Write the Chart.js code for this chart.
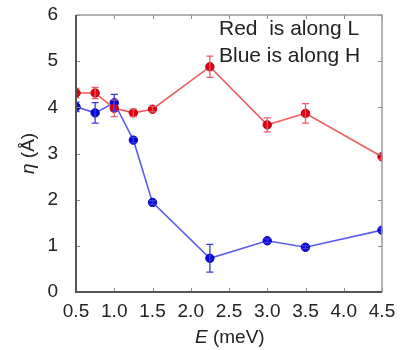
<!DOCTYPE html>
<html>
<head>
<meta charset="utf-8">
<script src="https://cdn.jsdelivr.net/npm/chart.js@4/dist/chart.umd.min.js"></script>
<style>
html,body{margin:0;padding:0;background:#fff;}
#wrap{width:411px;height:350px;position:relative;}
</style>
</head>
<body>
<div id="wrap"><canvas id="c" width="411" height="350"></canvas></div>
<script>
const energyL = [0.5, 0.75, 1.0, 1.25, 1.5, 2.25, 3.0, 3.5, 4.5];
const etaL    = [4.31, 4.31, 3.98, 3.88, 3.96, 4.88, 3.62, 3.87, 2.93];
const errL    = [0.10, 0.12, 0.18, 0.08, 0.06, 0.23, 0.15, 0.21, 0.05];
const energyH = [0.5, 0.75, 1.0, 1.25, 1.5, 2.25, 3.0, 3.5, 4.5];
const etaH    = [4.01, 3.88, 4.10, 3.29, 1.94, 0.73, 1.11, 0.97, 1.34];
const errH    = [0.10, 0.22, 0.18, 0.06, 0.04, 0.30, 0.04, 0.03, 0.04];
const xTicks = [0.5, 1.0, 1.5, 2.0, 2.5, 3.0, 3.5, 4.0, 4.5];
const yTicks = [0, 1, 2, 3, 4, 5, 6];
const notes = ["Red  is along L", "Blue is along H"];

const FONT = "'Liberation Sans', Arial, sans-serif";

const errorBars = {
  id: 'errorBars',
  afterDatasetsDraw(chart) {
    const ctx = chart.ctx, xs = chart.scales.x, ys = chart.scales.y;
    const area = chart.chartArea;
    ctx.save();
    ctx.beginPath();
    ctx.rect(area.left - 1, area.top - 1, area.right - area.left + 2, area.bottom - area.top + 2);
    ctx.clip();
    chart.data.datasets.forEach(ds => {
      ctx.strokeStyle = ds.errColor;
      ctx.lineWidth = 1.3;
      ds.data.forEach((p, i) => {
        const e = ds.errors[i];
        const px = xs.getPixelForValue(p.x);
        const y1 = ys.getPixelForValue(p.y + e), y2 = ys.getPixelForValue(p.y - e);
        ctx.beginPath();
        ctx.moveTo(px, y1); ctx.lineTo(px, y2);
        ctx.moveTo(px - 3.5, y1); ctx.lineTo(px + 3.5, y1);
        ctx.moveTo(px - 3.5, y2); ctx.lineTo(px + 3.5, y2);
        ctx.stroke();
      });
    });
    ctx.restore();
  }
};

const frame = {
  id: 'frame',
  afterDatasetsDraw(chart) {
    const ctx = chart.ctx, a = chart.chartArea, xs = chart.scales.x, ys = chart.scales.y;
    ctx.save();
    ctx.strokeStyle = '#8a8a8a';
    ctx.lineWidth = 1;
    xTicks.forEach(v => {
      const px = Math.round(xs.getPixelForValue(v)) + 0.5;
      ctx.beginPath();
      ctx.moveTo(px, a.bottom); ctx.lineTo(px, a.bottom - 4);
      ctx.moveTo(px, a.top); ctx.lineTo(px, a.top + 4);
      ctx.stroke();
    });
    yTicks.forEach(v => {
      const py = Math.round(ys.getPixelForValue(v)) + 0.5;
      ctx.beginPath();
      ctx.moveTo(a.left, py); ctx.lineTo(a.left + 4, py);
      ctx.moveTo(a.right, py); ctx.lineTo(a.right - 4, py);
      ctx.stroke();
    });
    ctx.strokeStyle = '#9a9a9a';
    ctx.lineWidth = 1.5;
    ctx.beginPath();
    ctx.moveTo(a.left, a.top); ctx.lineTo(a.right, a.top); ctx.lineTo(a.right, a.bottom);
    ctx.stroke();
    ctx.strokeStyle = '#555';
    ctx.lineWidth = 2;
    ctx.beginPath();
    ctx.moveTo(a.left, a.top); ctx.lineTo(a.left, a.bottom); ctx.lineTo(a.right, a.bottom);
    ctx.stroke();
    ctx.restore();
  }
};

const texts = {
  id: 'texts',
  afterDraw(chart) {
    const ctx = chart.ctx;
    ctx.save();
    ctx.fillStyle = '#222';
    ctx.textBaseline = 'alphabetic';
    ctx.textAlign = 'left';
    ctx.font = '21px ' + FONT;
    ctx.fillText(notes[0], 219, 35);
    ctx.fillText(notes[1], 219, 62);
    ctx.font = 'italic 19px ' + FONT;
    ctx.fillText('E', 195, 343);
    const w1 = ctx.measureText('E ').width;
    ctx.font = '19px ' + FONT;
    ctx.fillText('(meV)', 195 + w1, 343);
    ctx.translate(34, 174);
    ctx.rotate(-Math.PI / 2);
    ctx.font = 'italic 19px ' + FONT;
    ctx.fillText('η', 0, 0);
    const w2 = ctx.measureText('η ').width;
    ctx.font = '19px ' + FONT;
    ctx.fillText('(Å)', w2, 0);
    ctx.restore();
  }
};

new Chart(document.getElementById('c'), {
  type: 'line',
  data: {
    datasets: [
      {
        data: energyL.map((x, i) => ({x, y: etaL[i]})),
        errors: errL,
        errColor: '#ee5a66',
        borderColor: '#f05a5a',
        backgroundColor: '#e00010',
        pointBorderColor: '#b00010',
        pointBackgroundColor: '#e00010',
        borderWidth: 1.6,
        pointRadius: 4.2,
        pointBorderWidth: 1,
        tension: 0
      },
      {
        data: energyH.map((x, i) => ({x, y: etaH[i]})),
        errors: errH,
        errColor: '#3a3ae0',
        borderColor: '#5a5af0',
        backgroundColor: '#0a0ad8',
        pointBorderColor: '#0000b0',
        pointBackgroundColor: '#0a0ad8',
        borderWidth: 1.6,
        pointRadius: 4.2,
        pointBorderWidth: 1,
        tension: 0
      }
    ]
  },
  options: {
    responsive: false,
    animation: false,
    devicePixelRatio: 1,
    layout: { padding: { left: 0, top: 15, right: 29, bottom: 0 } },
    plugins: { legend: { display: false }, tooltip: { enabled: false } },
    scales: {
      x: {
        type: 'linear', min: 0.5, max: 4.5,
        afterBuildTicks: s => { s.ticks = xTicks.map(v => ({value: v})); },
        afterFit: s => { s.height = 58; s.paddingLeft = 0; s.paddingRight = 0; },
        grid: { display: false, drawTicks: false },
        border: { display: false },
        ticks: { color: '#222', padding: 8, font: { family: FONT, size: 19 }, callback: v => Number(v).toFixed(1), maxRotation: 0, autoSkip: false }
      },
      y: {
        type: 'linear', min: 0, max: 6,
        afterBuildTicks: s => { s.ticks = yTicks.map(v => ({value: v})); },
        afterFit: s => { s.width = 76; s.paddingTop = 0; s.paddingBottom = 0; },
        grid: { display: false, drawTicks: false },
        border: { display: false },
        ticks: { color: '#222', padding: 18, font: { family: FONT, size: 19 } }
      }
    }
  },
  plugins: [errorBars, frame, texts]
});
</script>
</body>
</html>
